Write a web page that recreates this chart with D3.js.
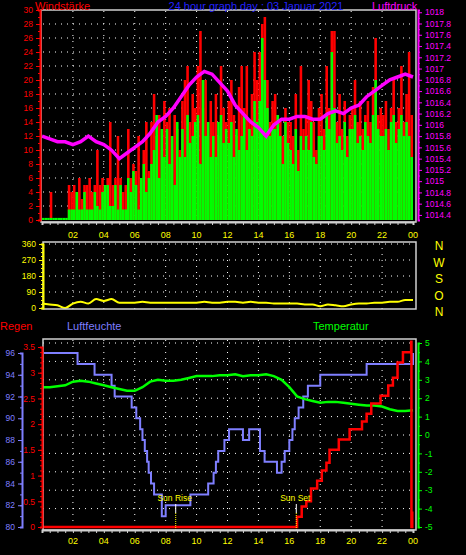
<!DOCTYPE html>
<html><head><meta charset="utf-8">
<script src="https://cdn.jsdelivr.net/npm/d3@7"></script>
<style>body{margin:0;background:#000}svg{display:block}text{font-family:"Liberation Sans",Arial,sans-serif}</style>
</head><body><svg id="c" width="466" height="555"></svg>
<script>
// wind, 10 minute samples (6 per hour)
const gust = [
 0,0,0,4,0,0, 0,0,0,0,5,4, 5,4,6,3,5,5, 6,4,5,10,5,6, 5,6,14,5,6,12, 6,4,5,13,6,8,
 7,12,6,10,14,7, 14,18,12,15,10,17, 14,16,10,15,13,10, 17,20,22,14,18,16, 22,27,16,20,12,17, 14,18,12,22,16,14,
 17,20,15,12,19,22, 16,22,14,18,24,20, 24,28,29,20,14,17, 18,15,14,12,16,14, 14,12,18,10,22,13, 15,20,17,14,10,16,
 18,13,22,16,27,27, 14,18,13,17,12,15, 16,20,14,17,13,15, 17,14,19,26,15,16, 15,17,13,16,20,14, 16,22,14,18,24,15];
const avgWind = [
 0.3,0.3,0.3,0.3,0.3,0.3, 0.3,0.3,0.3,0.3,1.5,1.5, 1.5,4,1.5,1.5,4,1.5, 1.5,1.5,4,2,1.5,4, 5,5,2,2,5,1.5, 5,1.5,1.5,6,4,7,
 5,1.5,6,8,4,6, 8,10,15,6,13,9, 13,8,12,5,14,9, 13,9,15,11,12,14, 15,8,20,12,14,9, 12,9,14,15,11,13,
 11,14,9,13,10,12, 15,10,13,12,17,14, 17,26,20,16,12,13, 13,15,12,8,14,11, 10,8,13,7,12,10, 12,10,14,9,8,12,
 12,10,15,13,24,16, 11,12,10,14,9,13, 13,15,11,12,10,14, 12,11,15,20,13,12, 12,13,10,14,15,11, 13,15,12,14,12,9];
// pressure, 30 minute samples
const pressure = [1015.8,1015.75,1015.7,1015.7,1015.65,1015.7,1015.8,1015.7,1015.65,1015.55,1015.4,1015.5,1015.6,1015.7,
 1015.85,1016.05,1016.15,1016.3,1016.5,1016.7,1016.85,1016.95,1016.9,1016.75,1016.6,1016.35,1016.2,1016.05,1015.95,1015.8,
 1016.0,1016.1,1016.1,1016.15,1016.15,1016.1,1016.1,1016.2,1016.25,1016.2,1016.3,1016.35,1016.5,1016.6,1016.7,1016.8,1016.85,1016.9,1016.85];
// wind direction, 30 minute samples
const direction = [25,20,15,0,25,35,25,50,40,50,30,30,30,35,30,30,30,30,30,30,30,35,30,30,35,35,30,35,30,30,
 25,25,25,25,20,20,10,20,15,10,20,25,25,30,30,35,35,45,45];
// humidity steps [hour, %]
const humHours = [0,2.3,3.4,4.5,4.7,5.8,6.1,6.35,6.5,6.65,6.8,6.9,7.05,7.25,7.75,8.0,9.6,10.75,11.1,11.25,11.4,11.8,12.1,13.0,13.4,14.1,14.4,15.2,15.5,15.7,16.0,16.2,16.35,16.6,16.9,17.2,18.0,21.0,24];
const humidity = [96,95,94,93,92,91,90,89,88,87,86,85,84,83,81,82,83,84,85,86,87,88,89,88,89,87,86,85,86,87,88,89,90,91,92,93,94,95,96,96];
// temperature, 30 minute samples
const temperature = [2.6,2.6,2.65,2.7,2.9,2.95,2.9,2.8,2.7,2.6,2.5,2.4,2.4,2.6,2.9,3.0,2.95,2.95,3.0,3.1,3.2,3.2,3.2,3.25,
 3.25,3.3,3.2,3.25,3.25,3.3,3.2,3.0,2.6,2.1,1.95,1.85,1.75,1.8,1.8,1.75,1.7,1.65,1.6,1.6,1.55,1.4,1.3,1.3,1.35];
// rain steps [hour, mm]
const rainHours = [0,16.5,16.8,17.1,17.4,17.8,18.1,18.4,18.6,19.2,19.9,20.7,21.0,21.3,21.9,22.4,22.7,23.0,23.35,23.88,23.9,23.95];
const rain = [0,0.2,0.4,0.5,0.75,0.9,1.1,1.25,1.5,1.7,1.9,2.05,2.2,2.4,2.55,2.75,2.9,3.2,3.4,3.6,0,0.3];
const hourLabels = ["02","04","06","08","10","12","14","16","18","20","22","00"];
const compass = ["N","W","S","O","N"];

const svg = d3.select("#c");
const x = d3.scaleLinear().domain([0,24]).range([42,413]);
const frame = "#d0d0d0", grid = "#ffffff";

function hgrid(y, ticks) {
  ticks.forEach(t => svg.append("line").attr("x1",43).attr("x2",415).attr("y1",y(t)).attr("y2",y(t))
    .attr("stroke",grid).attr("stroke-dasharray","1,5"));
}
function vgrid(y0, y1) {
  d3.range(2,24,2).forEach(h => svg.append("line").attr("x1",x(h)).attr("x2",x(h)).attr("y1",y0).attr("y2",y1)
    .attr("stroke",grid).attr("stroke-dasharray","1,5"));
}
function xAxis(yPos, labelY) {
  svg.append("g").attr("transform",`translate(0,${yPos})`)
    .call(d3.axisBottom(x).ticks(48).tickSize(3).tickFormat(""))
    .call(g => { g.select(".domain").attr("stroke",frame).attr("stroke-width",2); g.selectAll("line").attr("stroke",frame); });
  hourLabels.forEach((l,i) => svg.append("text").attr("x",x((i+1)*2)).attr("y",labelY).attr("text-anchor","middle")
    .attr("fill","#ffff00").attr("font-size",9).text(l));
}
function yAxis(scale, xPos, color, ticks, minor, fmt, side) {
  const ax = side === "left" ? d3.axisLeft(scale) : d3.axisRight(scale);
  svg.append("g").attr("transform",`translate(${xPos},0)`)
    .call(ax.tickValues(minor).tickSize(2).tickFormat(""))
    .call(g => { g.select(".domain").attr("stroke",color).attr("stroke-width",2); g.selectAll("line").attr("stroke",color); });
  const a2 = side === "left" ? d3.axisLeft(scale) : d3.axisRight(scale);
  svg.append("g").attr("transform",`translate(${xPos},0)`)
    .call(a2.tickValues(ticks).tickSize(4).tickFormat(fmt))
    .call(g => { g.select(".domain").remove(); g.selectAll("line").attr("stroke",color);
      g.selectAll("text").attr("fill",color).attr("font-size",8.5).attr("font-family","Liberation Sans,Arial"); });
}

// ---------- top panel ----------
const yW = d3.scaleLinear().domain([0,30]).range([220,10]);
const yP = d3.scaleLinear().domain([1014.31,1018.04]).range([220,10]);
hgrid(yW, d3.range(2,30,2));
vgrid(11,221);
const bw = (x(1/6)-x(0));
svg.append("g").selectAll("rect").data(gust).join("rect")
  .attr("x",(d,i)=>x(i/6)).attr("width",bw).attr("y",d=>yW(d)).attr("height",d=>yW(0)-yW(d)).attr("fill","#ff0000");
svg.append("g").selectAll("rect").data(avgWind).join("rect")
  .attr("x",(d,i)=>x(i/6)).attr("width",bw).attr("y",d=>yW(d)).attr("height",d=>yW(0)-yW(d)).attr("fill","#00ff00");
svg.append("path").datum(pressure).attr("fill","none").attr("stroke","#ff00ff").attr("stroke-width",3.5)
  .attr("d",d3.line().x((d,i)=>x(i/2)).y(d=>yP(d)));
svg.append("rect").attr("x",41).attr("y",10).attr("width",375).attr("height",212).attr("fill","none").attr("stroke",frame).attr("stroke-width",1.5);
yAxis(yW,40,"#ff0000",d3.range(0,31,2),d3.range(0,30.1,1),d=>d,"left");
yAxis(yP,418,"#ff00ff",d3.range(1014.4,1018.01,0.2).map(v=>+v.toFixed(1)),d3.range(1014.4,1018.01,0.1),d=>d3.format("~f")(d),"right");
xAxis(222,238);
svg.append("text").attr("x",35).attr("y",10).attr("fill","#ff0000").attr("font-size",11).text("Windstärke");
svg.append("text").attr("x",256).attr("y",10).attr("text-anchor","middle").attr("fill","#2222ff").attr("font-size",11).text("24 hour graph day : 03 Januar 2021");
svg.append("text").attr("x",372).attr("y",10).attr("fill","#ff00ff").attr("font-size",11).text("Luftdruck");

// ---------- direction panel ----------
const yD = d3.scaleLinear().domain([0,360]).range([308,244]);
hgrid(yD,[90,180,270,360]);
vgrid(242,309);
svg.append("path").datum(direction).attr("fill","none").attr("stroke","#ffff00").attr("stroke-width",2)
  .attr("d",d3.line().x((d,i)=>x(i/2)).y(d=>yD(d)).curve(d3.curveMonotoneX));
svg.append("rect").attr("x",43).attr("y",242).attr("width",373).attr("height",67).attr("fill","none").attr("stroke",frame).attr("stroke-width",1.5);
yAxis(yD,43,"#ffff00",[0,90,180,270,360],d3.range(0,361,22.5),d=>d,"left");
compass.forEach((c,i)=>svg.append("text").attr("x",439).attr("y",250+i*16.5).attr("text-anchor","middle")
  .attr("fill","#ffff00").attr("font-size",12).text(c));

// ---------- bottom panel ----------
const yT = d3.scaleLinear().domain([-5,5]).range([527,343]);
const yR = d3.scaleLinear().domain([0,3.5]).range([527,347]);
const yH = d3.scaleLinear().domain([80,96]).range([527,353]);
hgrid(yT,d3.range(-4,6,1));
vgrid(340,529);
svg.append("path").datum(humidity).attr("fill","none").attr("stroke","#7f7fff").attr("stroke-width",2)
  .attr("d",d3.line().x((d,i)=>x(humHours[Math.min(i,humHours.length-1)]) + (i===0?2:0)).y(d=>yH(d)).curve(d3.curveStepAfter));
svg.append("path").datum(temperature).attr("fill","none").attr("stroke","#00ff00").attr("stroke-width",2.5)
  .attr("d",d3.line().x((d,i)=>x(i/2)).y(d=>yT(d)));
svg.append("path").datum(rain).attr("fill","none").attr("stroke","#ff0000").attr("stroke-width",2.5)
  .attr("d",d3.line().x((d,i)=>x(rainHours[i])+(i===0?1:0)).y(d=>yR(d)).curve(d3.curveStepAfter));
[[8.65,"Sun Rise"],[16.45,"Sun Set"]].forEach(([h,l])=>{
  svg.append("line").attr("x1",x(h)).attr("x2",x(h)).attr("y1",504).attr("y2",513).attr("stroke","#fff");
  svg.append("line").attr("x1",x(h)).attr("x2",x(h)).attr("y1",513).attr("y2",530).attr("stroke","#ffff00").attr("stroke-dasharray","1,1");
  svg.append("text").attr("x",x(h)-1).attr("y",501).attr("text-anchor","middle").attr("fill","#ffff00").attr("font-size",8.5).text(l);
});
svg.append("rect").attr("x",43).attr("y",339).attr("width",373).attr("height",191).attr("fill","none").attr("stroke",frame).attr("stroke-width",1.5);
yAxis(yR,42,"#ff0000",[0,0.5,1,1.5,2,2.5,3,3.5],d3.range(0,3.51,0.1),d=>d,"left");
yAxis(yH,22,"#7f7fff",d3.range(80,97,2),d3.range(80,97,1),d=>d,"left");
yAxis(yT,418,"#00ff00",d3.range(-5,6,1),d3.range(-5,5.01,0.5),d=>d,"right");
xAxis(530,544);
svg.append("text").attr("x",0).attr("y",330).attr("fill","#ff0000").attr("font-size",11).text("Regen");
svg.append("text").attr("x",67).attr("y",330).attr("fill","#7f7fff").attr("font-size",11).text("Luftfeuchte");
svg.append("text").attr("x",313).attr("y",330).attr("fill","#00ff00").attr("font-size",11).text("Temperatur");
</script></body></html>
